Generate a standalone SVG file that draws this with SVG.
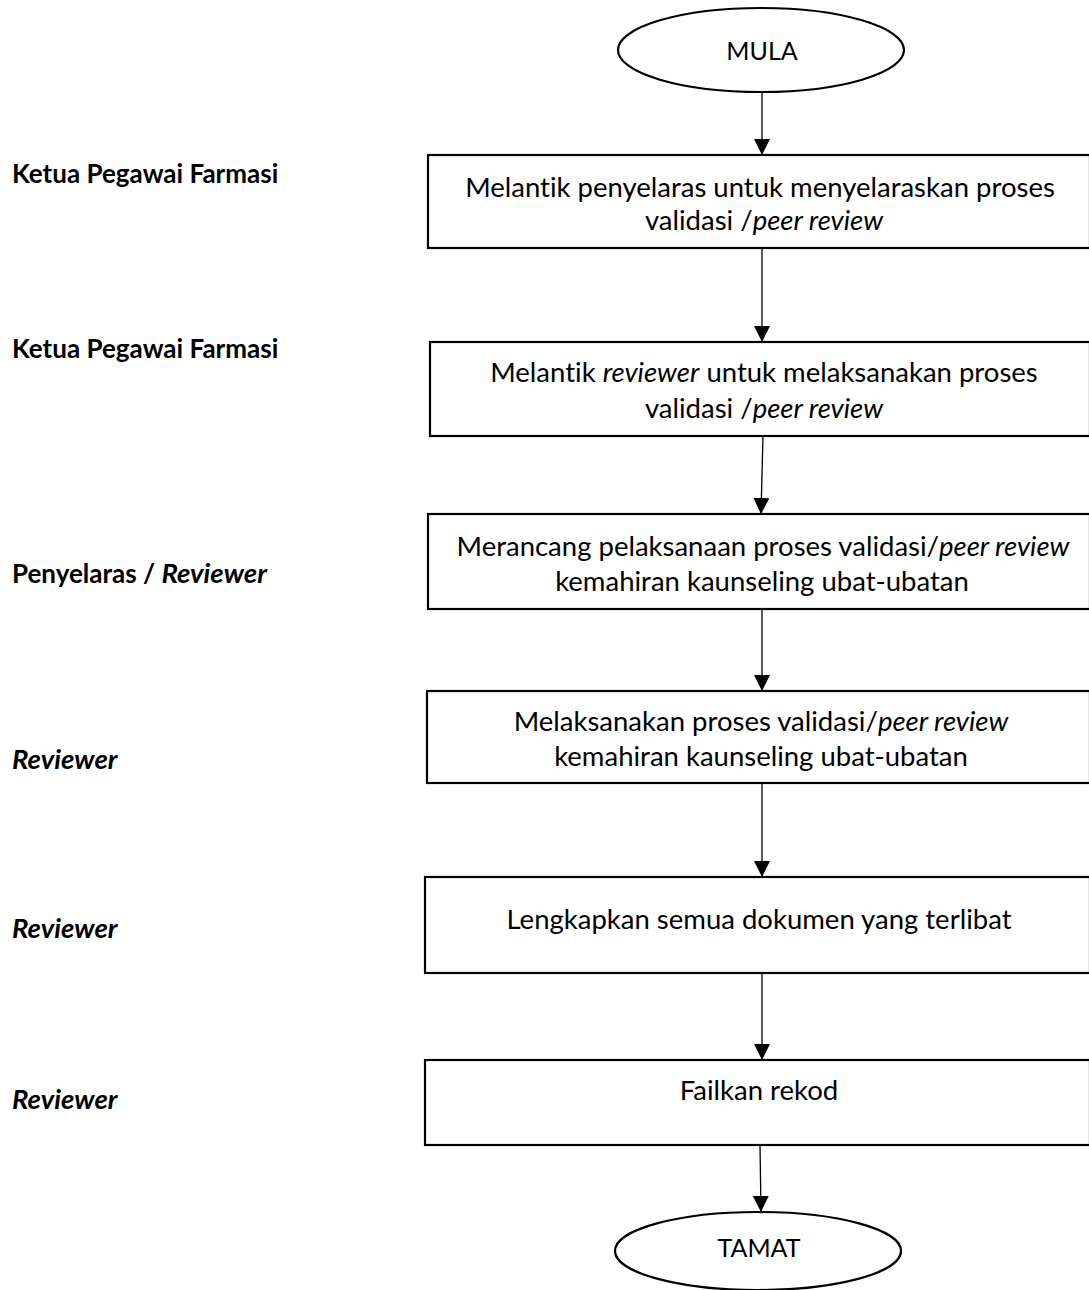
<svg xmlns="http://www.w3.org/2000/svg" width="1089" height="1290" viewBox="0 0 1089 1290">
  <style>
    .shape { fill: #ffffff; stroke: #000000; stroke-width: 2.2; }
    .link { stroke: #000000; stroke-width: 1.3; fill: none; }
    text { font-variant-ligatures: none; }
    .txt { font-family: "Lato", "Open Sans", "Liberation Sans", sans-serif; font-size: 27.5px; fill: #000000; text-anchor: middle; }
    .term { font-size: 25px; }
    .role { font-family: "Lato", "Open Sans", "Liberation Sans", sans-serif; font-size: 26px; font-weight: bold; fill: #000000; }
    .it { font-style: italic; }
    .role .it, .role.it { font-size: 27.5px; }
  </style>
  <defs>
    <marker id="head" markerUnits="userSpaceOnUse" markerWidth="16" markerHeight="18" refX="16" refY="8" orient="auto">
      <path d="M0,0 L16,8 L0,16 Z" fill="#000000"/>
    </marker>
  </defs>

  <rect x="0" y="0" width="1089" height="1290" fill="#ffffff"/>

  <!-- role labels on the left -->
  <g id="roles">
    <text class="role" x="12" y="183">Ketua Pegawai Farmasi</text>
    <text class="role" x="12" y="358">Ketua Pegawai Farmasi</text>
    <text class="role" x="12" y="583">Penyelaras / <tspan class="it">Reviewer</tspan></text>
    <text class="role it" x="12" y="769">Reviewer</text>
    <text class="role it" x="12" y="938">Reviewer</text>
    <text class="role it" x="12" y="1109">Reviewer</text>
  </g>

  <!-- connectors -->
  <g id="connectors">
    <line class="link" x1="762" y1="92" x2="762" y2="155" marker-end="url(#head)"/>
    <line class="link" x1="762" y1="248" x2="762" y2="342" marker-end="url(#head)"/>
    <line class="link" x1="763" y1="436" x2="761" y2="514" marker-end="url(#head)"/>
    <line class="link" x1="762" y1="609" x2="762" y2="691" marker-end="url(#head)"/>
    <line class="link" x1="762" y1="783" x2="762" y2="877" marker-end="url(#head)"/>
    <line class="link" x1="762" y1="973" x2="762" y2="1060" marker-end="url(#head)"/>
    <line class="link" x1="760" y1="1145" x2="761" y2="1212" marker-end="url(#head)"/>
  </g>

  <g id="start">
    <ellipse class="shape" cx="761" cy="50" rx="143" ry="42"/>
    <text class="txt term" x="762" y="60">MULA</text>
  </g>

  <g id="step1">
    <rect class="shape" x="428" y="155" width="662" height="93"/>
    <text class="txt" x="760" y="197">Melantik penyelaras untuk menyelaraskan proses</text>
    <text class="txt" x="764" y="230">validasi /<tspan class="it">peer review</tspan></text>
  </g>

  <g id="step2">
    <rect class="shape" x="430" y="342" width="660" height="94"/>
    <text class="txt" x="764" y="382">Melantik <tspan class="it">reviewer</tspan> untuk melaksanakan proses</text>
    <text class="txt" x="764" y="418">validasi /<tspan class="it">peer review</tspan></text>
  </g>

  <g id="step3">
    <rect class="shape" x="428" y="514" width="662" height="95"/>
    <text class="txt" x="763" y="556">Merancang pelaksanaan proses validasi/<tspan class="it">peer review</tspan></text>
    <text class="txt" x="762" y="591">kemahiran kaunseling ubat-ubatan</text>
  </g>

  <g id="step4">
    <rect class="shape" x="427" y="691" width="663" height="92"/>
    <text class="txt" x="761" y="731">Melaksanakan proses validasi/<tspan class="it">peer review</tspan></text>
    <text class="txt" x="761" y="766">kemahiran kaunseling ubat-ubatan</text>
  </g>

  <g id="step5">
    <rect class="shape" x="425" y="877" width="665" height="96"/>
    <text class="txt" x="759" y="929">Lengkapkan semua dokumen yang terlibat</text>
  </g>

  <g id="step6">
    <rect class="shape" x="425" y="1060" width="665" height="85"/>
    <text class="txt" x="759" y="1100">Failkan rekod</text>
  </g>

  <g id="end">
    <ellipse class="shape" cx="758" cy="1251" rx="143" ry="39"/>
    <text class="txt term" x="759" y="1257">TAMAT</text>
  </g>
</svg>
